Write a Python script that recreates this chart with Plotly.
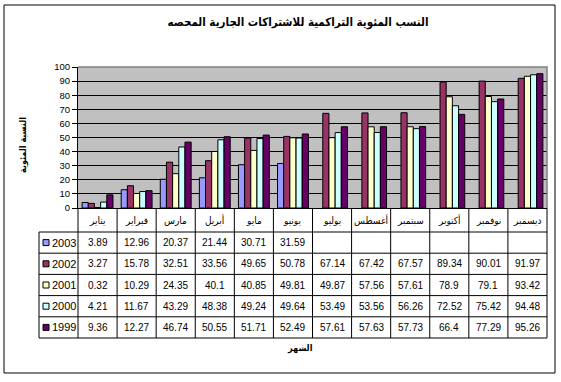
import plotly.graph_objects as go

# ---------------- data ----------------
months = ["يناير", "فبراير", "مارس", "أبريل", "مايو", "يونيو",
          "يوليو", "أغسطس", "سبتمبر", "أكتوبر", "نوفمبر", "ديسمبر"]
years = ["2003", "2002", "2001", "2000", "1999"]
v2003 = [3.89, 12.96, 20.37, 21.44, 30.71, 31.59, None, None, None, None, None, None]
v2002 = [3.27, 15.78, 32.51, 33.56, 49.65, 50.78, 67.14, 67.42, 67.57, 89.34, 90.01, 91.97]
v2001 = [0.32, 10.29, 24.35, 40.1, 40.85, 49.81, 49.87, 57.56, 57.61, 78.9, 79.1, 93.42]
v2000 = [4.21, 11.67, 43.29, 48.38, 49.24, 49.64, 53.49, 53.56, 56.26, 72.52, 75.42, 94.48]
v1999 = [9.36, 12.27, 46.74, 50.55, 51.71, 52.49, 57.61, 57.63, 57.73, 66.4, 77.29, 95.26]
series = [v2003, v2002, v2001, v2000, v1999]
colors = ["#9999FF", "#993366", "#FFFFCC", "#CCFFFF", "#660066"]

title_text = "النسب المئوية التراكمية للاشتراكات الجارية المحصه"
y_title = "النسبة المئوية"
x_title = "الشهر"

# ---------------- geometry ----------------
W, H = 561, 382
ML, MR, MT, MB = 39, 14, 67, 174
PW = W - ML - MR
PH = H - MT - MB
XD0 = 39 / PW  # legend column width inside paper


def xp(px):
    return (px - ML) / PW


def yp(py):
    return (H - MB - py) / PH


FONT = "Arial, 'Liberation Sans', 'DejaVu Sans Condensed', 'DejaVu Sans', sans-serif"
AFONT = "'DejaVu Sans Condensed', 'DejaVu Sans', sans-serif"

fig = go.Figure()
for name, vals, col in zip(years, series, colors):
    fig.add_trace(go.Bar(
        x=months, y=vals, name=name,
        marker=dict(color=col, line=dict(color="black", width=1)),
        hoverinfo="skip"))

shapes = []
annotations = []

# outer chart border
shapes.append(dict(type="rect", xref="paper", yref="paper",
                   x0=xp(4), x1=xp(555), y0=yp(5), y1=yp(373),
                   line=dict(color="black", width=1), layer="above"))
# gray plot-area border (top & right)
shapes.append(dict(type="path", xref="x domain", yref="y domain",
                   path="M 0 1 L 1 1 L 1 0",
                   line=dict(color="#808080", width=1.5), layer="above"))

# ---------------- data table ----------------
top = H - MB
header_bot = top + 24
row_h = 21.2
row_edges = [header_bot + k * row_h for k in range(len(years) + 1)]
col_edges = [XD0 + i * (1 - XD0) / len(months) for i in range(len(months) + 1)]

for ye in row_edges:
    shapes.append(dict(type="line", xref="paper", yref="paper",
                       x0=0, x1=1, y0=yp(ye), y1=yp(ye),
                       line=dict(color="black", width=1)))
for xe in col_edges:
    shapes.append(dict(type="line", xref="paper", yref="paper",
                       x0=xe, x1=xe, y0=yp(top), y1=yp(row_edges[-1]),
                       line=dict(color="black", width=1)))
shapes.append(dict(type="line", xref="paper", yref="paper",
                   x0=0, x1=0, y0=yp(header_bot), y1=yp(row_edges[-1]),
                   line=dict(color="black", width=1)))

# month headers
for m in months:
    annotations.append(dict(x=m, xref="x", y=yp((top + header_bot) / 2), yref="paper",
                            text=m, showarrow=False, xanchor="center", yanchor="middle",
                            font=dict(family=AFONT, size=10, color="black")))

# rows
for r, (name, vals, col) in enumerate(zip(years, series, colors)):
    yc = yp((row_edges[r] + row_edges[r + 1]) / 2)
    shapes.append(dict(type="rect", xref="paper", yref="paper",
                       xsizemode="pixel", ysizemode="pixel",
                       xanchor=0, yanchor=yc, x0=4, x1=10, y0=-3, y1=3,
                       fillcolor=col, line=dict(color="black", width=1)))
    annotations.append(dict(x=xp(ML + 11), xref="paper", y=yc, yref="paper",
                            text=name, showarrow=False, xanchor="left", yanchor="middle",
                            font=dict(family=FONT, size=11, color="black")))
    for m, v in zip(months, vals):
        if v is None:
            continue
        annotations.append(dict(x=m, xref="x", y=yc, yref="paper",
                                text=str(v), showarrow=False,
                                xanchor="center", yanchor="middle",
                                font=dict(family=FONT, size=10, color="black")))

# axis titles
annotations.append(dict(x=xp(300), xref="paper", y=yp(348), yref="paper",
                        text="<b>" + x_title + "</b>", showarrow=False,
                        xanchor="center", yanchor="middle",
                        font=dict(family=AFONT, size=9, color="black")))
annotations.append(dict(x=xp(23), xref="paper", y=yp(145), yref="paper",
                        text="<b>" + y_title + "</b>", showarrow=False, textangle=-90,
                        xanchor="center", yanchor="middle",
                        font=dict(family=AFONT, size=9, color="black")))

fig.update_layout(
    width=W, height=H,
    margin=dict(l=ML, r=MR, t=MT, b=MB, autoexpand=False),
    paper_bgcolor="white", plot_bgcolor="#C0C0C0",
    barmode="group", bargap=0.21, bargroupgap=0,
    showlegend=False,
    title=dict(text="<b>" + title_text + "</b>", x=298 / W, xanchor="center",
               y=1 - 22 / H, yanchor="middle",
               font=dict(family=AFONT, size=11.5, color="black")),
    xaxis=dict(domain=[XD0, 1], showticklabels=False, ticks="",
               showline=True, linecolor="black", linewidth=1, showgrid=False,
               fixedrange=True),
    yaxis=dict(range=[0, 100], dtick=10, showgrid=True, gridcolor="black", gridwidth=1,
               showline=True, linecolor="black", linewidth=1, ticks="outside",
               ticklen=5, tickcolor="black", zeroline=False,
               tickfont=dict(family=FONT, size=9.5, color="black"), fixedrange=True),
    shapes=shapes, annotations=annotations,
)

fig.write_html("out.html", config={"displayModeBar": False},
               post_script="document.body.style.margin='0';document.body.style.overflow='hidden';")
